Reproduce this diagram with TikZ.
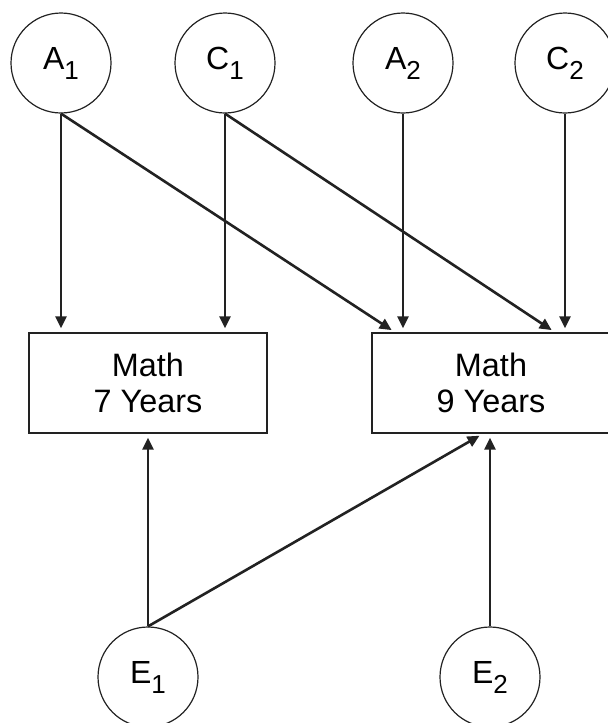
\documentclass[tikz,border=0pt]{standalone}
\usepackage{fontspec}
\setmainfont{Liberation Sans}
\usetikzlibrary{arrows.meta,positioning,calc}
\definecolor{ink}{HTML}{222222}
\newcommand{\idx}[1]{\raisebox{-5pt}{\fontsize{13}{13}\selectfont #1}}
\tikzset{latent/.style={circle,draw=ink,line width=0.6pt,minimum size=50pt,inner sep=0pt,font=\fontsize{16}{18}\selectfont},
  obs/.style={rectangle,draw=ink,line width=0.7pt,minimum width=119pt,minimum height=50pt,align=center,font=\fontsize{16.2}{18}\selectfont},
  arr/.style={-{Triangle[length=6pt,width=5.5pt]},line width=1.3pt,draw=ink,shorten >=2pt}}

\begin{document}
\begin{tikzpicture}[x=0.5pt,y=-0.5pt]
\useasboundingbox (0,0) rectangle (607,723);
\node[latent] (a1) at (61,63) {A\idx{1}};
\node[latent] (c1) at (225,63) {C\idx{1}};
\node[latent] (a2) at (403,63) {A\idx{2}};
\node[latent] (c2) at (565,63) {C\idx{2}};
\node[obs] (m7) at (148,383) {Math\\7 Years};
\node[obs] (m9) at (491,383) {Math\\9 Years};
\node[latent] (e1) at (148,677) {E\idx{1}};
\node[latent] (e2) at (490,677) {E\idx{2}};
\draw[arr] (a1.south)--(m7.north -| a1);\draw[arr] (c1.south)--(m7.north -| c1);
\draw[arr] (a2.south)--(m9.north -| a2);\draw[arr] (c2.south)--(m9.north -| c2);
\draw[arr] (a1.south)--($(m9.north -| a2)+(-8,0)$);
\draw[arr] (c1.south)--($(m9.north -| c2)+(-10,0)$);
\draw[arr] (e1.north)--(m7.south -| e1);\draw[arr] (e2.north)--(m9.south -| e2);
\draw[arr] (e1.north)--($(m9.south -| e2)+(-7,0)$);
\end{tikzpicture}
\end{document}
